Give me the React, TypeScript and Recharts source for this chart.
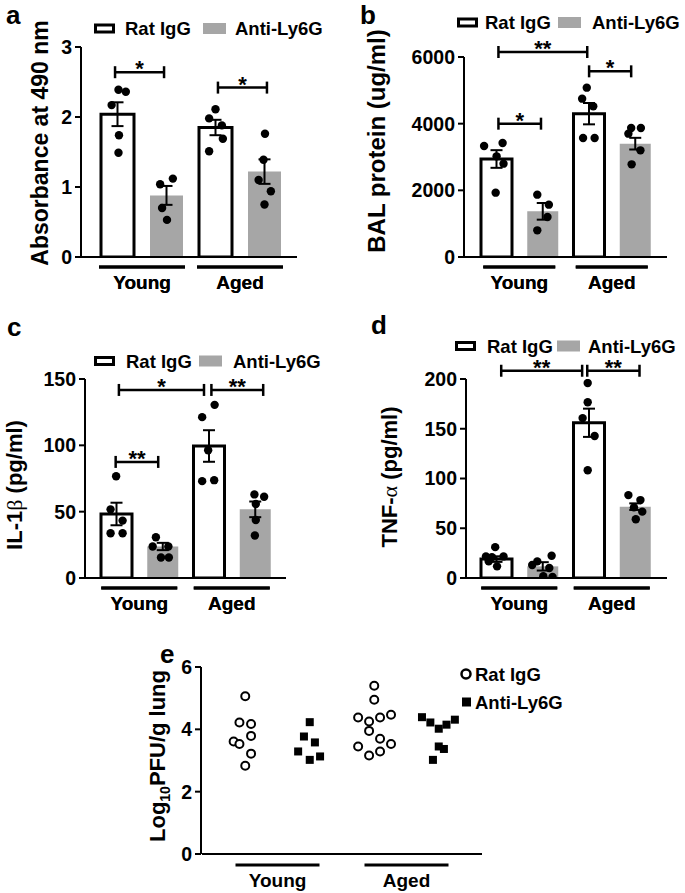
import React from 'react';
import { ComposedChart, Bar, Cell, ErrorBar, Scatter, XAxis, YAxis, ReferenceLine } from 'recharts';

const FONT = '"Liberation Sans", Arial, Helvetica, sans-serif';
const GRAY = '#a6a6a6';
const AXIS = { stroke: '#000', strokeWidth: 2 };
const TICK = { fill: '#000', fontSize: 19.5, fontWeight: 'bold', fontFamily: FONT };

// bars in every panel: young / aged x rat IgG / anti-Ly6G
const barNames = ['Young Rat IgG', 'Young Anti-Ly6G', 'Aged Rat IgG', 'Aged Anti-Ly6G'];
const barGroups = ['Young', 'Young', 'Aged', 'Aged'];
const groups = ['Young', 'Aged'];

type Sig = { x1: number; x2: number; y: number; mark: string };

// a - absorbance at 490 nm
const aTicks = [0, 1, 2, 3];
const aMean = [2.04, 0.88, 1.85, 1.22];
const aSem = [0.17, 0.135, 0.11, 0.175];
const aPts = [
  [1.02, 2.39], [1.17, 2.36], [0.88, 2.17], [1.03, 1.74], [1.02, 1.49],
  [1.87, 1.04], [2.13, 1.12], [1.91, 0.70], [2.01, 0.53],
  [3.0, 2.11], [2.87, 1.98], [3.13, 1.88], [2.87, 1.51], [3.15, 1.69],
  [4.01, 1.76], [3.98, 1.39], [3.88, 1.10], [4.13, 0.94], [4.0, 0.75],
];
const aSig: Sig[] = [
  { x1: 0.95, x2: 1.95, y: 2.64, mark: '*' },
  { x1: 3.05, x2: 4.05, y: 2.42, mark: '*' },
];

// b - BAL protein
const bTicks = [0, 2000, 4000, 6000];
const bMean = [2940, 1370, 4300, 3400];
const bSem = [265, 250, 320, 175];
const bPts = [
  [0.74, 3330], [1.14, 3420], [1.01, 3020], [1.16, 2800], [0.99, 1930],
  [1.89, 1870], [2.14, 1570], [2.11, 1200], [1.89, 800],
  [2.96, 5080], [2.86, 4750], [3.1, 4520], [2.88, 3570], [3.13, 3570],
  [3.92, 3870], [4.13, 3870], [3.86, 3700], [4.12, 3200], [3.93, 2780],
];
const bSig: Sig[] = [
  { x1: 1.05, x2: 2.97, y: 6150, mark: '**' },
  { x1: 3.01, x2: 3.92, y: 5570, mark: '*' },
  { x1: 1.05, x2: 1.97, y: 4000, mark: '*' },
];

// c - IL-1b
const cTicks = [0, 50, 100, 150];
const cMean = [48.25, 23.75, 99.5, 51.75];
const cSem = [8.5, 2.75, 11.9, 5.9];
const cPts = [
  [1.0, 76.75], [0.88, 51.75], [1.14, 43.25], [0.88, 33.75], [1.14, 33.75],
  [1.86, 30.75], [1.79, 23.75], [2.13, 23.75], [1.97, 15.5], [2.14, 15.5],
  [3.13, 130.5], [2.86, 121.25], [2.99, 96.25], [2.86, 73], [3.12, 73.75],
  [3.99, 63], [4.2, 61.25], [4.02, 55.75], [4.02, 43.75], [4.0, 32],
];
const cSig: Sig[] = [
  { x1: 1.06, x2: 2.9, y: 141.75, mark: '*' },
  { x1: 3.06, x2: 4.18, y: 141.75, mark: '**' },
  { x1: 0.99, x2: 1.91, y: 87.5, mark: '**' },
];

// d - TNF-a
const dTicks = [0, 50, 100, 150, 200];
const dMean = [19, 11.7, 156, 71.7];
const dSem = [2.8, 4.2, 14.2, 3.3];
const dPts = [
  [0.98, 31], [0.78, 21.7], [1.16, 21.7], [0.91, 21], [0.84, 16.7], [1.02, 11.7],
  [1.89, 16.7], [2.2, 22.3], [1.78, 13], [2.15, 10], [2.02, 1.7], [2.22, 1],
  [2.98, 196], [2.98, 176.7], [2.87, 160.7], [3.13, 142.7], [2.98, 108.3],
  [3.86, 83.3], [4.12, 78.3], [3.98, 71], [4.16, 66.7], [4.02, 59],
];
const dSig: Sig[] = [
  { x1: 1.11, x2: 2.86, y: 208.3, mark: '**' },
  { x1: 2.97, x2: 4.1, y: 208.3, mark: '**' },
];

// e - lung virus titre
const eTicks = [0, 2, 4, 6];
const eMinor = [0, 1, 2, 3, 4, 5].flatMap((n) => [1, 2, 3, 4, 5, 6, 7, 8, 9].map((k) => n + Math.log10(k)));
const eRat = [
  [1.0, 5.06], [0.91, 4.22], [1.09, 4.17], [1.09, 3.79], [0.82, 3.61], [0.91, 3.53], [1.09, 3.22], [1.0, 2.83],
  [3.0, 5.40], [3.0, 4.95], [2.75, 4.38], [2.92, 4.25], [3.09, 4.38], [3.26, 4.47],
  [2.92, 3.95], [3.09, 3.70], [2.75, 3.45], [3.26, 3.53], [2.92, 3.16], [3.09, 3.29],
];
const eAnti = [
  [2.0, 4.23], [1.91, 3.77], [2.08, 3.58], [1.82, 3.29], [2.0, 3.02], [2.16, 3.13],
  [3.74, 4.39], [3.87, 4.22], [4.0, 4.02], [4.12, 4.15], [4.25, 4.31], [4.0, 3.45], [4.08, 3.37], [3.91, 3.02],
];

const toXY = (p: number[][]) => p.map(([x, y]) => ({ x, y }));

const dot = (p: any) => <circle cx={p.cx} cy={p.cy} r={4.2} fill="#000" />;
const ring = (p: any) => <circle cx={p.cx} cy={p.cy} r={4} fill="#fff" stroke="#000" strokeWidth={2} />;
const square = (p: any) => <rect x={p.cx - 4} y={p.cy - 4} width={8} height={8} fill="#000" />;

const bracket = (mark: string) => (p: any) => (
  <g>
    <line x1={p.x1} x2={p.x2} y1={p.y1} y2={p.y1} stroke="#000" strokeWidth={2.5} />
    <line x1={p.x1} x2={p.x1} y1={p.y1 - 6} y2={p.y1 + 6} stroke="#000" strokeWidth={2.5} />
    <line x1={p.x2} x2={p.x2} y1={p.y1 - 6} y2={p.y1 + 6} stroke="#000" strokeWidth={2.5} />
    <text x={(p.x1 + p.x2) / 2} y={p.y1 + 4} textAnchor="middle" fontSize={22} fontWeight="bold" fontFamily={FONT} fill="#000">{mark}</text>
  </g>
);

const groupTick = (half: number, lineDy: number, textDy: number) => (p: any) => (
  <g>
    <line x1={p.x - half} x2={p.x + half} y1={p.y + lineDy} y2={p.y + lineDy} stroke="#000" strokeWidth={3} />
    <text x={p.x} y={p.y + textDy} textAnchor="middle" fontSize={19} fontWeight="bold" fontFamily={FONT} fill="#000">{p.payload.value}</text>
  </g>
);

const yLabel = (cx: number, cy: number, size: number, body: React.ReactNode) => () => (
  <text transform={`translate(${cx},${cy}) rotate(-90)`} textAnchor="middle" dy="0.36em" fontSize={size} fontWeight="bold" fontFamily={FONT} fill="#000">{body}</text>
);

type PanelProps = {
  left: number; top: number; width: number; height: number;
  mt: number; mr: number; plotBottom: number; yWidth: number; padL: number; padR: number;
  barSize: number; half: number;
  mean: number[]; sem: number[]; pts: number[][]; sig: Sig[]; ticks: number[];
  label: React.ReactNode; labelX: number; labelY: number; labelSize: number;
};

function BarPanel(p: PanelProps) {
  const data = barNames.map((n, i) => ({ name: n, group: barGroups[i], v: p.mean[i], e: p.sem[i] }));
  const pad = { left: p.padL, right: p.padR };
  return (
    <div style={{ position: 'absolute', left: p.left, top: p.top }}>
      <ComposedChart width={p.width} height={p.height} data={data} margin={{ top: p.mt, right: p.mr, bottom: 0, left: 0 }}>
        <XAxis xAxisId="b" dataKey="name" height={1} tick={false} tickLine={false} axisLine={AXIS} padding={pad} />
        <XAxis xAxisId="g" dataKey="group" scale="band" allowDuplicatedCategory={false} height={p.height - p.plotBottom - 1}
          axisLine={false} tickLine={false} tickSize={0} tickMargin={0} padding={pad} interval={0}
          tick={groupTick(p.half, 9, 31)} />
        <XAxis xAxisId="n" type="number" dataKey="x" domain={[0.5, 4.5]} allowDataOverflow hide padding={pad} />
        <YAxis yAxisId="v" width={p.yWidth} domain={[0, p.ticks[p.ticks.length - 1]]} ticks={p.ticks} interval={0}
          allowDataOverflow axisLine={AXIS} tickLine={AXIS} tickSize={6} tickMargin={3} tick={TICK}
          label={yLabel(p.labelX, p.labelY, p.labelSize, p.label)} />
        <Bar xAxisId="b" yAxisId="v" dataKey="v" barSize={p.barSize} isAnimationActive={false}>
          {data.map((_, i) => (
            <Cell key={i} fill={i % 2 ? GRAY : '#fff'} stroke={i % 2 ? 'none' : '#000'} strokeWidth={i % 2 ? 0 : 3} />
          ))}
          <ErrorBar dataKey="e" width={6} stroke="#000" strokeWidth={2} />
        </Bar>
        <Scatter xAxisId="n" yAxisId="v" data={toXY(p.pts)} dataKey="y" shape={dot} isAnimationActive={false} />
        {p.sig.map((s, i) => (
          <ReferenceLine key={i} xAxisId="n" yAxisId="v" segment={[{ x: s.x1, y: s.y }, { x: s.x2, y: s.y }]}
            ifOverflow="visible" shape={bracket(s.mark)} />
        ))}
      </ComposedChart>
    </div>
  );
}

function PanelE() {
  const data = groups.map((g) => ({ group: g }));
  const pad = { left: 11, right: 11 };
  return (
    <div style={{ position: 'absolute', left: 0, top: 620 }}>
      <ComposedChart width={685} height={273} data={data} margin={{ top: 47, right: 203, bottom: 0, left: 0 }}>
        <XAxis xAxisId="g" dataKey="group" scale="band" height={39} axisLine={AXIS} tickLine={false} tickSize={0} tickMargin={0}
          padding={pad} interval={0} tick={groupTick(42, 11, 33)} />
        <XAxis xAxisId="n" type="number" dataKey="x" domain={[0.5, 4.5]} allowDataOverflow hide padding={pad} />
        <YAxis yAxisId="m" width={1} domain={[0, 6]} ticks={eMinor} interval={0} allowDataOverflow axisLine={false}
          tickLine={{ stroke: '#000', strokeWidth: 1.2 }} tickSize={3} tick={false} />
        <YAxis yAxisId="v" width={201} domain={[0, 6]} ticks={eTicks} interval={0} allowDataOverflow
          axisLine={AXIS} tickLine={AXIS} tickSize={6} tickMargin={3} tick={TICK}
          label={yLabel(157.5, 136, 22, <>Log<tspan fontSize={14} dy={5}>10</tspan><tspan dy={-5}>PFU/g lung</tspan></>)} />
        <Scatter xAxisId="n" yAxisId="v" data={toXY(eRat)} dataKey="y" shape={ring} isAnimationActive={false} />
        <Scatter xAxisId="n" yAxisId="v" data={toXY(eAnti)} dataKey="y" shape={square} isAnimationActive={false} />
      </ComposedChart>
    </div>
  );
}

const legendSpots = [
  { r: 94, t1: 125, g: 203, t2: 235, cy: 28.5 },
  { r: 457, t1: 485, g: 558, t2: 592, cy: 22.5 },
  { r: 94, t1: 126, g: 199, t2: 233, cy: 361 },
  { r: 455, t1: 487, g: 557, t2: 588, cy: 346 },
];
const letters = [
  { t: 'a', x: 6, y: 24 }, { t: 'b', x: 360, y: 24 }, { t: 'c', x: 7, y: 336 },
  { t: 'd', x: 371, y: 334 }, { t: 'e', x: 160, y: 663 },
];

function Overlay() {
  const txt = { fontSize: 18.5, fontWeight: 'bold' as const, fontFamily: FONT, fill: '#000' };
  return (
    <svg width={685} height={893} style={{ position: 'absolute', left: 0, top: 0, pointerEvents: 'none' }}>
      {letters.map((l) => (
        <text key={l.t} x={l.x} y={l.y} fontSize={26} fontWeight="bold" fontFamily={FONT}>{l.t}</text>
      ))}
      {legendSpots.map((s, i) => (
        <g key={i}>
          <rect x={s.r + 1.5} y={s.cy - 3.5} width={18} height={7} fill="#fff" stroke="#000" strokeWidth={3} />
          <text x={s.t1} y={s.cy + 6.5} {...txt}>Rat IgG</text>
          <rect x={s.g} y={s.cy - 5.5} width={23} height={11} fill={GRAY} />
          <text x={s.t2} y={s.cy + 6.5} {...txt}>Anti-Ly6G</text>
        </g>
      ))}
      <circle cx={466} cy={674} r={4.5} fill="#fff" stroke="#000" strokeWidth={2.5} />
      <text x={475} y={680.5} {...txt}>Rat IgG</text>
      <rect x={462} y={697.5} width={9} height={9} fill="#000" />
      <text x={475} y={708.5} {...txt}>Anti-Ly6G</text>
    </svg>
  );
}

export default function App() {
  return (
    <div style={{ position: 'absolute', left: 0, top: 0, width: 685, height: 893, background: '#fff' }}>
      <BarPanel left={0} top={0} width={340} height={300} mt={47} mr={43} plotBottom={257} yWidth={81}
        padL={12} padR={8} barSize={33} half={43} mean={aMean} sem={aSem} pts={aPts} sig={aSig} ticks={aTicks}
        label="Absorbance at 490 nm" labelX={40} labelY={143} labelSize={23} />
      <BarPanel left={340} top={0} width={345} height={300} mt={57} mr={18} plotBottom={257} yWidth={124}
        padL={9} padR={9} barSize={31} half={36} mean={bMean} sem={bSem} pts={bPts} sig={bSig} ticks={bTicks}
        label="BAL protein (ug/ml)" labelX={36} labelY={141} labelSize={24} />
      <BarPanel left={0} top={300} width={340} height={320} mt={79} mr={54} plotBottom={278} yWidth={85}
        padL={8} padR={8} barSize={31} half={38} mean={cMean} sem={cSem} pts={cPts} sig={cSig} ticks={cTicks}
        label={<>IL-1<tspan fontFamily="Liberation Serif, serif" fontWeight="normal">β</tspan> (pg/ml)</>}
        labelX={14} labelY={185} labelSize={22} />
      <BarPanel left={340} top={300} width={345} height={320} mt={79} mr={18} plotBottom={278} yWidth={126}
        padL={7} padR={9} barSize={31} half={38} mean={dMean} sem={dSem} pts={dPts} sig={dSig} ticks={dTicks}
        label={<>TNF-<tspan fontFamily="Liberation Serif, serif" fontWeight="normal">α</tspan> (pg/ml)</>}
        labelX={49} labelY={177} labelSize={22} />
      <PanelE />
      <Overlay />
    </div>
  );
}
